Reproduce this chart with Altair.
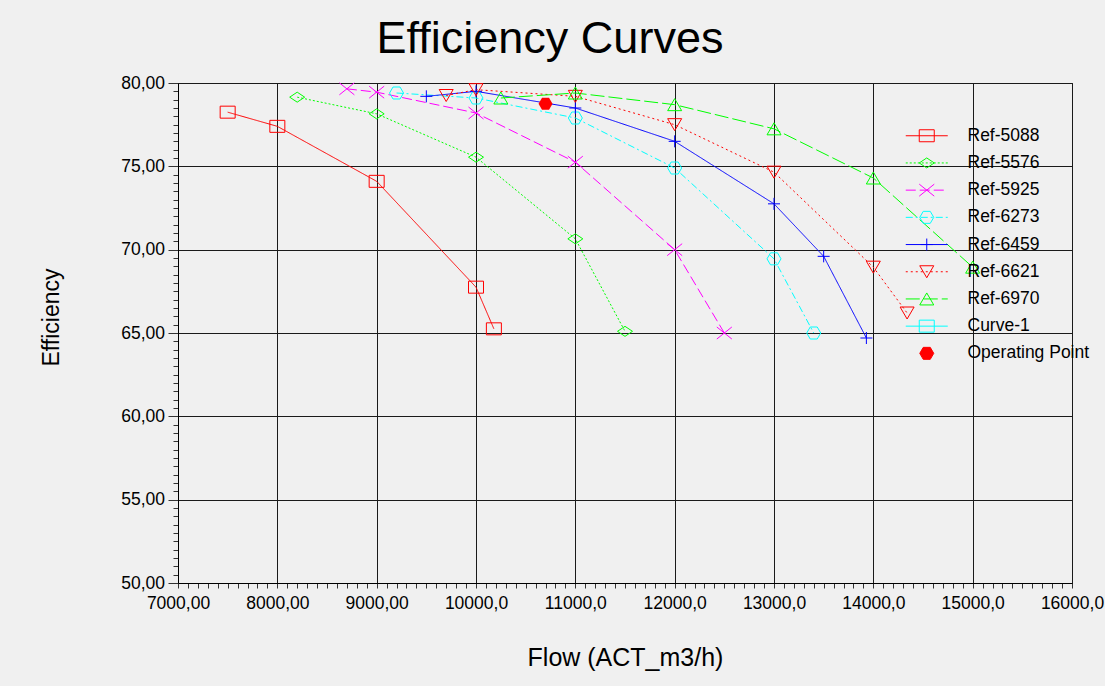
import altair as alt
import pandas as pd

# ---------------- data ----------------
series_names = ["Ref-5088", "Ref-5576", "Ref-5925", "Ref-6273", "Ref-6459", "Ref-6621", "Ref-6970"]
legend_names = series_names + ["Curve-1", "Operating Point"]

flow_5088 = [7500, 8000, 9000, 10000, 10180]
eff_5088 = [78.25, 77.4, 74.1, 67.75, 65.25]
flow_5576 = [8200, 9000, 10000, 11000, 11500]
eff_5576 = [79.15, 78.15, 75.55, 70.65, 65.1]
flow_5925 = [8700, 9000, 10000, 11000, 12000, 12500]
eff_5925 = [79.65, 79.45, 78.2, 75.25, 70.0, 65.0]
flow_6273 = [9200, 10000, 11000, 12000, 13000, 13400]
eff_6273 = [79.4, 79.1, 77.9, 74.9, 69.45, 65.0]
flow_6459 = [9500, 10000, 11000, 12000, 13000, 13500, 13930]
eff_6459 = [79.2, 79.5, 78.5, 76.5, 72.75, 69.6, 64.7]
flow_6621 = [9700, 10000, 11000, 12000, 13000, 14000, 14340]
eff_6621 = [79.25, 79.6, 79.2, 77.5, 74.65, 68.95, 66.2]
flow_6970 = [10250, 11000, 12000, 13000, 14000, 15000]
eff_6970 = [79.1, 79.4, 78.7, 77.25, 74.3, 68.95]

op_flow = [10700]
op_eff = [78.75]

x_tick_values = list(range(7000, 16001, 100))
y_tick_values = [50 + 0.5 * i for i in range(61)]

# ---------------- styles ----------------
FONT = "Liberation Sans"
colors = {
    "Ref-5088": "#ff0000", "Ref-5576": "#00ff00", "Ref-5925": "#ff00ff",
    "Ref-6273": "#00ffff", "Ref-6459": "#0000ff", "Ref-6621": "#ff0000",
    "Ref-6970": "#00ff00", "Curve-1": "#00ffff", "Operating Point": "#ff0000",
}
dashes = {
    "Ref-5088": [1, 0], "Ref-5576": [2, 2], "Ref-5925": [10, 4],
    "Ref-6273": [7, 3, 2, 3], "Ref-6459": [1, 0], "Ref-6621": [2, 3],
    "Ref-6970": [14, 4], "Curve-1": [1, 0],
}
square = "M-7.5,-6H7.5V6H-7.5Z"
diamond = "M0,-5L7.5,0L0,5L-7.5,0Z"
xcross = "M-7.5,-6L7.5,6M-7.5,6L7.5,-6"
hexagon = "M-7,0L-3.5,-6H3.5L7,0L3.5,6H-3.5Z"
plus = "M-6,0H6M0,-6V6"
tri_down = "M-7,-6H7L0,6Z"
tri_up = "M-7,6H7L0,-6Z"
markers = {
    "Ref-5088": square, "Ref-5576": diamond, "Ref-5925": xcross,
    "Ref-6273": hexagon, "Ref-6459": plus, "Ref-6621": tri_down,
    "Ref-6970": tri_up, "Curve-1": square,
}


def dash_path(pattern, x0=-21.0, x1=21.0):
    if pattern[1] == 0:
        return f"M{x0},0H{x1}"
    parts, x, i, on = [], x0, 0, True
    while x < x1:
        end = min(x + pattern[i % len(pattern)], x1)
        if on:
            parts.append(f"M{x:.1f},0H{end:.1f}")
        x, on, i = end, not on, i + 1
    return "".join(parts)


legend_paths = [dash_path(dashes[n]) + markers[n] for n in legend_names[:-1]]
legend_paths.append("M-21,0L-21,0M21,0L21,0" + hexagon)
legend_fills = ["transparent"] * 8 + [colors["Operating Point"]]

# ---------------- table ----------------
flows = [flow_5088, flow_5576, flow_5925, flow_6273, flow_6459, flow_6621, flow_6970]
effs = [eff_5088, eff_5576, eff_5925, eff_6273, eff_6459, eff_6621, eff_6970]
rows = []
for name, fl, ef in zip(series_names, flows, effs):
    for f, e in zip(fl, ef):
        rows.append({"series": name, "flow": f, "eff": e})
df = pd.DataFrame(rows)
op_df = pd.DataFrame({"series": ["Operating Point"] * len(op_flow), "flow": op_flow, "eff": op_eff})
df_all = pd.concat([df, op_df], ignore_index=True)

# ---------------- encodings ----------------
x_enc = alt.X(
    "flow:Q",
    scale=alt.Scale(domain=[7000, 16000], nice=False, zero=False),
    axis=alt.Axis(
        values=x_tick_values,
        labelExpr="datum.value % 1000 === 0 ? replace(format(datum.value, datum.value < 10000 ? '.2f' : '.1f'), '.', ',') : ''",
        grid=True,
        gridColor="#1a1a1a",
        gridOpacity={"condition": {"test": "datum.value % 1000 === 0", "value": 1}, "value": 0},
        tickSize=5, tickColor="#333333", domainColor="#000000",
        labelFont=FONT, labelFontSize=17.5, labelColor="#000000", labelPadding=6,
        labelOverlap=False, labelFlush=False,
        title="Flow (ACT_m3/h)", titleFont=FONT, titleFontSize=25, titleFontWeight="normal",
        titleColor="#000000", titleX=447, titleY=74, titleBaseline="middle", titleAlign="center",
    ),
)
y_enc = alt.Y(
    "eff:Q",
    scale=alt.Scale(domain=[50, 80], nice=False, zero=False),
    axis=alt.Axis(
        values=y_tick_values,
        labelExpr="datum.value % 5 === 0 ? replace(format(datum.value, '.2f'), '.', ',') : ''",
        grid=True,
        gridColor="#1a1a1a",
        gridOpacity={"condition": {"test": "datum.value % 5 === 0", "value": 1}, "value": 0},
        tickSize={"condition": {"test": "datum.value % 5 === 0", "value": 10}, "value": 5},
        tickColor="#333333", domainColor="#000000",
        labelFont=FONT, labelFontSize=17.5, labelColor="#000000", labelPadding=3.5,
        labelOverlap=False, labelFlush=False,
        title="Efficiency", titleFont=FONT, titleFontSize=23, titleFontWeight="normal",
        titleColor="#000000", titleX=-127, titleY=234, titleAngle=270,
        titleBaseline="middle", titleAlign="center",
    ),
)

lines = alt.Chart(df).mark_line(strokeWidth=1).encode(
    x=x_enc, y=y_enc,
    color=alt.Color("series:N", scale=alt.Scale(domain=series_names, range=[colors[n] for n in series_names]), legend=None),
    strokeDash=alt.StrokeDash("series:N", scale=alt.Scale(domain=series_names, range=[dashes[n] for n in series_names]), legend=None),
)

points = alt.Chart(df).mark_point(filled=False, size=4, strokeWidth=1, opacity=1).encode(
    x=x_enc, y=y_enc,
    color=alt.Color("series:N", scale=alt.Scale(domain=series_names, range=[colors[n] for n in series_names]), legend=None),
    shape=alt.Shape("series:N", scale=alt.Scale(domain=series_names, range=[markers[n] for n in series_names]), legend=None),
)

op_point = alt.Chart(op_df).mark_point(
    filled=True, size=4, shape=hexagon, color=colors["Operating Point"], opacity=1, strokeWidth=1
).encode(x=x_enc, y=y_enc)

leg = alt.Legend(
    title=None, orient="none", legendX=740, legendY=44, padding=0,
    labelFont=FONT, labelFontSize=17.5, labelColor="#000000", labelOffset=32,
    rowPadding=8.2, symbolSize=4, symbolStrokeWidth=1, symbolOpacity=1, labelLimit=300,
)
legend_layer = alt.Chart(df_all).mark_point(filled=True, size=4, opacity=0, strokeWidth=1).encode(
    x=x_enc, y=y_enc,
    stroke=alt.Stroke("series:N", scale=alt.Scale(domain=legend_names, range=[colors[n] for n in legend_names]), legend=leg),
    fill=alt.Fill("series:N", scale=alt.Scale(domain=legend_names, range=legend_fills), legend=leg),
    shape=alt.Shape("series:N", scale=alt.Scale(domain=legend_names, range=legend_paths), legend=leg),
)

chart = (
    alt.layer(lines, points, op_point, legend_layer)
    .resolve_scale(color="independent", shape="independent", stroke="independent",
                   fill="independent", strokeDash="independent")
    .properties(
        width=894, height=500,
        autosize=alt.AutoSizeParams(type="none"),
        padding={"left": 178, "top": 83, "right": 33, "bottom": 103},
        background="#f0f0f0",
        title=alt.Title("Efficiency Curves", font=FONT, fontSize=45, fontWeight="normal",
                        color="#000000", anchor="middle", dx=-75, offset=12),
    )
    .configure_view(stroke="#000000", strokeWidth=1)
)

chart.save("out.html", embed_options={"renderer": "svg", "actions": False})
